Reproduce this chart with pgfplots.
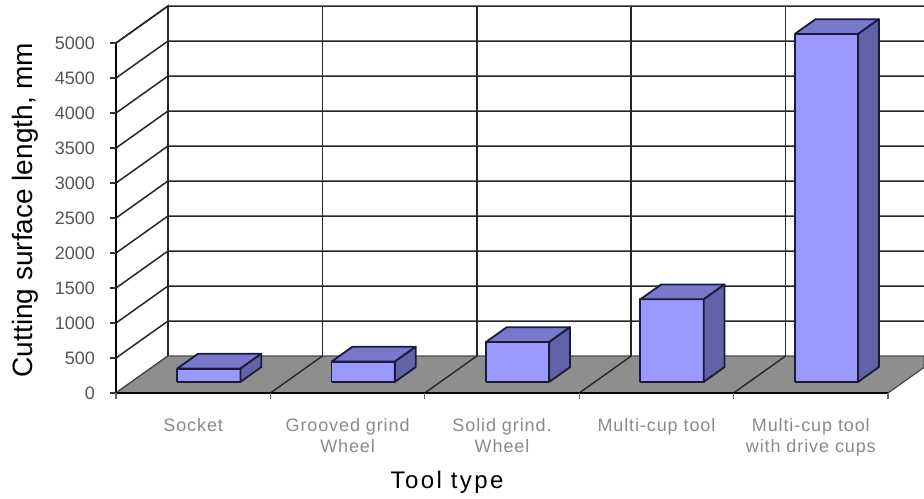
\documentclass[border=0pt]{standalone}
\usepackage{pgfplots}
\pgfplotsset{compat=1.18}
\usepackage{pgfplotstable}
\usepackage{fontspec}
\setmainfont{Liberation Sans}
\newfontfamily\tickfont[LetterSpace=5]{Liberation Sans}
\newfontfamily\labfont[LetterSpace=10]{Liberation Sans}
\definecolor{barfront}{HTML}{9999FF}
\definecolor{bartop}{HTML}{7878CC}
\definecolor{barside}{HTML}{6262A8}
\definecolor{baredge}{HTML}{1A1A3A}
\definecolor{floorgray}{HTML}{8E8E8E}
\definecolor{gridc}{HTML}{262626}
\definecolor{ytickc}{HTML}{555555}
\definecolor{xtickc}{HTML}{8A8A8A}

% bar values (cutting surface length, mm)
\pgfplotstableread{
cat value
0 190
1 290
2 570
3 1180
4 4970
}\datatable

% face templates: x within category, base y, height flag
\pgfplotstableread{
x y h
0.396 158.6 0
0.806 158.6 0
0.806 158.6 1
0.396 158.6 1
0.396 158.6 0
}\fronttpl
\pgfplotstableread{
x y h
0.396 158.6 1
0.806 158.6 1
0.9407 370.0 1
0.5307 370.0 1
0.396 158.6 1
}\toptpl
\pgfplotstableread{
x y h
0.806 158.6 0
0.9407 370.0 0
0.9407 370.0 1
0.806 158.6 1
0.806 158.6 0
}\sidetpl
\pgfplotstableread{
x y
0 0
0.3368 528.6
5.233 528.6
}\gridtpl
\pgfplotstableread{
x y
0.3368 528.6
0.3368 5528.6
}\vgridtpl
\pgfplotstableread{
x y
0 0
0.3368 528.6
}\floordiag

\begin{document}
\begin{tikzpicture}
\begin{axis}[
  name=ax, scale only axis, width=404pt, height=197.55pt,
  xmin=0, xmax=5.233, ymin=-30, ymax=5614.3,
  clip=false,
  axis line style={draw=none},
  major tick length=0pt,
  xtick={0.5,1.5,2.5,3.5,4.5},
  xticklabels={Socket,{Grooved grind\\Wheel},{Solid grind.\\Wheel},Multi-cup tool,{Multi-cup tool\\with drive cups}},
  xticklabel style={font=\tickfont\fontsize{9}{10.5}\selectfont, text=xtickc, align=center, anchor=north, yshift=-8pt},
  ytick={0,500,...,5000},
  yticklabel style={font=\fontsize{9}{10}\selectfont, text=ytickc, anchor=east, xshift=-7pt},
  /pgf/number format/assume math mode=true,
  /pgf/number format/1000 sep={},
  xlabel={Tool type},
  ylabel={Cutting surface length, mm},
  xlabel style={at={(axis cs:2.144,-1271)}, anchor=center, font=\labfont\fontsize{12}{14}\selectfont},
  ylabel style={at={(axis cs:-0.589,2614)}, anchor=center, font=\fontsize{14}{16}\selectfont},
]
% walls and floor
\addplot[fill=white, draw=gridc, line width=0.75pt] coordinates {(0,0) (0.3368,528.6) (0.3368,5528.6) (0,5000) (0,0)};
\addplot[fill=white, draw=none] coordinates {(0.3368,528.6) (5.233,528.6) (5.233,5528.6) (0.3368,5528.6) (0.3368,528.6)};
\addplot[fill=floorgray, draw=black!70, line width=0.6pt] coordinates {(0,0) (5,0) (5.233,365.5) (5.233,528.6) (0.3368,528.6) (0,0)};
% gridlines
\pgfplotsinvokeforeach{500,1000,...,5000}{
  \addplot[draw=gridc, line width=0.75pt] table[y expr=\thisrow{y}+#1]{\gridtpl};
}
\pgfplotsinvokeforeach{0,1,2,3,4}{
  \addplot[draw=gridc, line width=0.75pt] table[x expr=\thisrow{x}+#1]{\vgridtpl};
}
\pgfplotsinvokeforeach{1,2,3,4}{
  \addplot[draw=black!85, line width=0.7pt] table[x expr=\thisrow{x}+#1]{\floordiag};
}
% front axis line and ticks
\addplot[draw=black, line width=0.75pt] coordinates {(0,0) (0,5000)};
\addplot[draw=black, line width=1.1pt] coordinates {(0,0) (5,0)};
\pgfplotsinvokeforeach{0,500,...,5000}{
  \addplot[draw=black!80, line width=0.6pt] coordinates {(-0.039,#1) (0,#1)};
}
\pgfplotsinvokeforeach{0,1,2,3,4,5}{
  \addplot[draw=black!60, line width=0.6pt] coordinates {(#1,0) (#1,-86)};
}
% bars
\pgfplotsinvokeforeach{0,1,2,3,4}{
  \pgfplotstablegetelem{#1}{value}\of\datatable
  \edef\barval{\pgfplotsretval}
  \addplot[fill=barfront, draw=baredge, line width=0.9pt, line join=round] table[x expr=\thisrow{x}+#1, y expr=\thisrow{y}+\thisrow{h}*\barval]{\fronttpl};
  \addplot[fill=bartop, draw=baredge, line width=0.9pt, line join=round] table[x expr=\thisrow{x}+#1, y expr=\thisrow{y}+\thisrow{h}*\barval]{\toptpl};
  \addplot[fill=barside, draw=baredge, line width=0.9pt, line join=round] table[x expr=\thisrow{x}+#1, y expr=\thisrow{y}+\thisrow{h}*\barval]{\sidetpl};
}
\end{axis}
\pgfresetboundingbox
\path ([shift={(-58pt,-51.45pt)}]ax.south west) rectangle (ax.north east);
\end{tikzpicture}
\end{document}
